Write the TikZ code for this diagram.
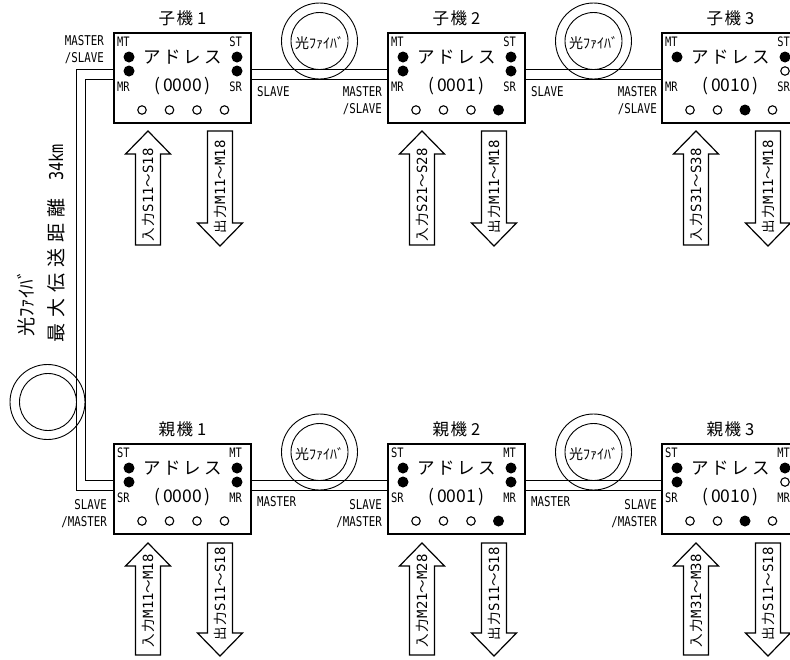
\documentclass[tikz,border=0pt]{standalone}
\usepackage{fontspec}
\setmainfont{Noto Sans CJK JP}
\newfontfamily\nar[FakeStretch=0.8]{DejaVu Sans Mono}
\newfontfamily\mono{DejaVu Sans Mono}
\usetikzlibrary{calc}

\tikzset{
 boxst/.style={draw, line width=2.2pt, minimum width=137pt, minimum height=90pt, inner sep=0pt},
 inlab/.style={font=\nar\fontsize{13}{13}\selectfont, inner sep=0pt},
 sidelab/.style={font=\nar\fontsize{13.5}{17}\selectfont, inner sep=0pt, align=right},
 adr/.style={font=\fontsize{17.5}{17.5}\selectfont, inner sep=0pt},
 num/.style={font=\fontsize{17.5}{17.5}\selectfont, inner sep=0pt},
 ttl/.style={font=\fontsize{16.5}{16.5}\selectfont, inner sep=0pt},
 looptxt/.style={font=\fontsize{14}{14}\selectfont, inner sep=0pt},
 vtxt/.style={font=\fontsize{19}{19}\selectfont, inner sep=0pt, rotate=90, anchor=west},
 arrtxt/.style={font=\fontsize{13.5}{13.5}\selectfont, inner sep=0pt, rotate=90},
 fiber/.style={line width=0.9pt},
 loopst/.style={line width=0.9pt},
 arrst/.style={line width=1.2pt, line join=miter},
 dotf/.style={circle, fill=black, inner sep=0pt, minimum size=11pt},
 doto/.style={circle, draw=black, line width=1.1pt, inner sep=0pt, minimum size=8.5pt},
}

% #1 name, #2 left, #3 top, #4 TL, #5 TR, #6 BL, #7 BR, #8 address, #9 dots
\newcommand\mybox[9]{%
  \node[boxst] (#1) at ({#2+68.5},{#3+45}) {};
  \coordinate (#1-wa) at (#2,{#3+36});
  \coordinate (#1-wb) at (#2,{#3+46});
  \coordinate (#1-ea) at ({#2+137},{#3+36});
  \coordinate (#1-eb) at ({#2+137},{#3+46});
  \node[inlab,anchor=west] (#1-tl) at ({#2+3},{#3+9}) {#4};
  \node[inlab,anchor=east] (#1-tr) at ({#2+128},{#3+9}) {#5};
  \node[inlab,anchor=west] (#1-bl) at ({#2+3},{#3+54}) {#6};
  \node[inlab,anchor=east] (#1-br) at ({#2+128},{#3+54}) {#7};
  \node[adr] (#1-a) at ({#2+68.5},{#3+24}) {ア\hspace{3pt}ド\hspace{3pt}レ\hspace{3pt}ス};
  \node[num] (#1-n) at ({#2+68.5},{#3+53}) {(\hspace{2.5pt}#8\hspace{2.5pt})};
  \foreach \s/\dx/\dy [count=\i] in {#9} {\node[\s] (#1-d\i) at ({#2+\dx},{#3+\dy}) {};}
}

% up arrow: #1 name, #2 cx, #3 tip y, #4 bottom y, #5 text centre y, #6 text
\newcommand\myUpArr[6]{%
  \draw[arrst] ({#2-12.5},#4) -- ({#2-12.5},{#3+23}) -- ({#2-22.5},{#3+23}) -- (#2,#3)
    -- ({#2+22.5},{#3+23}) -- ({#2+12.5},{#3+23}) -- ({#2+12.5},#4) -- cycle;
  \node[arrtxt] (#1) at (#2,#5) {#6};
}
% down arrow: #1 name, #2 cx, #3 top y, #4 tip y, #5 text centre y, #6 text
\newcommand\myDnArr[6]{%
  \draw[arrst] ({#2-12.5},#3) -- ({#2-12.5},{#4-23}) -- ({#2-22.5},{#4-23}) -- (#2,#4)
    -- ({#2+22.5},{#4-23}) -- ({#2+12.5},{#4-23}) -- ({#2+12.5},#3) -- cycle;
  \node[arrtxt] (#1) at (#2,#5) {#6};
}
\newcommand\atx[3]{#1\hspace{1pt}{\mono\fontsize{14}{14}\selectfont #2}～{\mono\fontsize{14}{14}\selectfont #3}}
\newcommand\inp{入\hspace{1.5pt}力}
\newcommand\outp{出\hspace{1.5pt}力}

\begin{document}
\begin{tikzpicture}[x=1pt,y=-1pt]
\useasboundingbox (0,0) rectangle (790,659);
\clip (0,0) rectangle (790,659);
\fill[white] (0,0) rectangle (790,659);

% ---- boxes ----
\mybox{k1}{114}{33}{MT}{ST}{MR}{SR}{0000}{dotf/15/24, dotf/15/38, dotf/123/24, dotf/123/38, doto/28/77, doto/55.5/77, doto/83/77, doto/110.5/77}
\mybox{k2}{388}{33}{MT}{ST}{MR}{SR}{0001}{dotf/15/24, dotf/15/38, dotf/123/24, dotf/123/38, doto/28/77, doto/55.5/77, doto/83/77, dotf/110.5/77}
\mybox{k3}{662}{33}{MT}{ST}{MR}{SR}{0010}{dotf/15/24, dotf/123/24, doto/123/38, doto/28/77, doto/55.5/77, dotf/83/77, doto/110.5/77}
\mybox{o1}{114}{444}{ST}{MT}{SR}{MR}{0000}{dotf/15/24, dotf/15/38, dotf/123/24, dotf/123/38, doto/28/77, doto/55.5/77, doto/83/77, doto/110.5/77}
\mybox{o2}{388}{444}{ST}{MT}{SR}{MR}{0001}{dotf/15/24, dotf/15/38, dotf/123/24, dotf/123/38, doto/28/77, doto/55.5/77, doto/83/77, dotf/110.5/77}
\mybox{o3}{662}{444}{ST}{MT}{SR}{MR}{0010}{dotf/15/24, dotf/15/38, dotf/123/24, doto/123/38, doto/28/77, doto/55.5/77, dotf/83/77, doto/110.5/77}

% ---- titles ----
\node[ttl] (k1t) at (182.5,18.5) {子\hspace{1.5pt}機\hspace{4pt}1};
\node[ttl] (k2t) at (456.5,18.5) {子\hspace{1.5pt}機\hspace{4pt}2};
\node[ttl] (k3t) at (730.5,18.5) {子\hspace{1.5pt}機\hspace{4pt}3};
\node[ttl] (o1t) at (182.5,429) {親\hspace{1.5pt}機\hspace{4pt}1};
\node[ttl] (o2t) at (456.5,429) {親\hspace{1.5pt}機\hspace{4pt}2};
\node[ttl] (o3t) at (730.5,429) {親\hspace{1.5pt}機\hspace{4pt}3};

% ---- fibres ----
\draw[fiber] (k1-ea) -- (k2-wa);
\draw[fiber] (k1-eb) -- (k2-wb);
\draw[fiber] (k2-ea) -- (k3-wa);
\draw[fiber] (k2-eb) -- (k3-wb);
\draw[fiber] (o1-ea) -- (o2-wa);
\draw[fiber] (o1-eb) -- (o2-wb);
\draw[fiber] (o2-ea) -- (o3-wa);
\draw[fiber] (o2-eb) -- (o3-wb);
\coordinate (cxa) at (76,0);
\coordinate (cxb) at (85,0);
\draw[fiber] (k1-wa) -- (k1-wa -| cxa) -- (o1-wb -| cxa) -- (o1-wb);
\draw[fiber] (k1-wb) -- (k1-wb -| cxb) -- (o1-wa -| cxb) -- (o1-wa);

% ---- fibre loops ----
\draw[loopst] (319.5,41) circle[radius=38] (319.5,41) circle[radius=28.5];
\draw[loopst] (593.5,41) circle[radius=38] (593.5,41) circle[radius=28.5];
\draw[loopst] (319.5,452) circle[radius=38] (319.5,452) circle[radius=28.5];
\draw[loopst] (593.5,452) circle[radius=38] (593.5,452) circle[radius=28.5];
\draw[loopst] (47.5,402) circle[radius=37.5] (48,402) circle[radius=28.5];
\node[looptxt] (f1) at (319.5,43) {光ﾌｧｲﾊﾞ};
\node[looptxt] (f2) at (593.5,43) {光ﾌｧｲﾊﾞ};
\node[looptxt] (f3) at (319.5,454) {光ﾌｧｲﾊﾞ};
\node[looptxt] (f4) at (593.5,454) {光ﾌｧｲﾊﾞ};

% ---- side labels ----
\node[sidelab,anchor=east] (l1) at (104,49.5) {MASTER\\/SLAVE};
\node[inlab,font=\nar\fontsize{13.5}{13.5}\selectfont,anchor=west] (l2) at (257,92) {SLAVE};
\node[sidelab,anchor=east] (l3) at (382,101) {MASTER\\/SLAVE};
\node[inlab,font=\nar\fontsize{13.5}{13.5}\selectfont,anchor=west] (l4) at (531,92) {SLAVE};
\node[sidelab,anchor=east] (l5) at (657,101) {MASTER\\/SLAVE};
\node[sidelab,anchor=east] (m1) at (107,513.5) {SLAVE\\/MASTER};
\node[inlab,font=\nar\fontsize{13.5}{13.5}\selectfont,anchor=west] (m2) at (257,502) {MASTER};
\node[sidelab,anchor=east] (m3) at (382,513.5) {SLAVE\\/MASTER};
\node[inlab,font=\nar\fontsize{13.5}{13.5}\selectfont,anchor=west] (m4) at (531,502) {MASTER};
\node[sidelab,anchor=east] (m5) at (657,513.5) {SLAVE\\/MASTER};

% ---- vertical texts ----
\node[vtxt] (v1) at (26,337) {光ﾌｧｲﾊﾞ};
\node[vtxt] (v2) at (56,343) {最\hspace{6pt}大\hspace{6pt}伝\hspace{6pt}送\hspace{6pt}距\hspace{6pt}離\hspace{18pt}{\nar 34km}};

% ---- arrows ----
\myUpArr{a1}{148}{131}{245}{195}{\atx{\inp}{S11}{S18}}
\myDnArr{b1}{220}{131}{246}{187}{\atx{\outp}{M11}{M18}}
\myUpArr{a2}{422}{131}{245}{195}{\atx{\inp}{S21}{S28}}
\myDnArr{b2}{494}{131}{246}{187}{\atx{\outp}{M11}{M18}}
\myUpArr{a3}{696}{131}{245}{195}{\atx{\inp}{S31}{S38}}
\myDnArr{b3}{768}{131}{246}{187}{\atx{\outp}{M11}{M18}}
\myUpArr{c1}{148}{543}{655}{601}{\atx{\inp}{M11}{M18}}
\myDnArr{d1}{220}{543}{656}{594}{\atx{\outp}{S11}{S18}}
\myUpArr{c2}{422}{543}{655}{601}{\atx{\inp}{M21}{M28}}
\myDnArr{d2}{494}{543}{656}{594}{\atx{\outp}{S11}{S18}}
\myUpArr{c3}{696}{543}{655}{601}{\atx{\inp}{M31}{M38}}
\myDnArr{d3}{768}{543}{656}{594}{\atx{\outp}{S11}{S18}}
\end{tikzpicture}
\end{document}
